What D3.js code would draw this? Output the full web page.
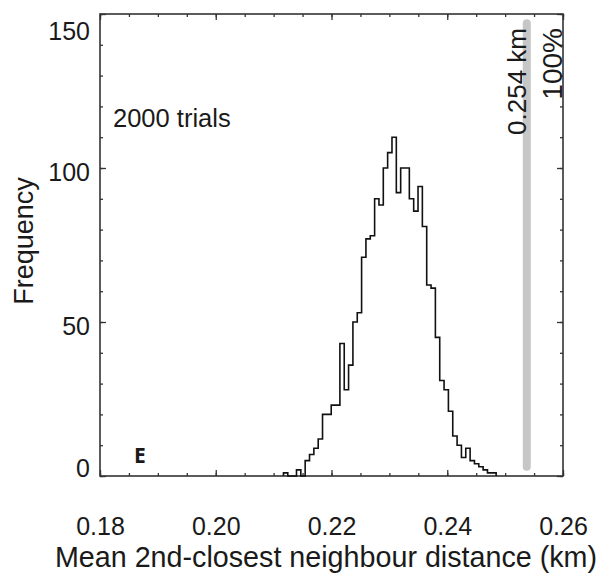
<!DOCTYPE html>
<html>
<head>
<meta charset="utf-8">
<script src="https://cdn.jsdelivr.net/npm/d3@7/dist/d3.min.js"></script>
<style>
  body { margin: 0; background: #fff; }
  text { font-family: "Liberation Sans", Arial, sans-serif; fill: #1a1a1a; }
</style>
</head>
<body>
<div id="chart"></div>
<script>
// Histogram of 2000 randomisation trials (bins of 0.00075 km)
var binStart = 0.2117;
var binWidth = 0.00075;
var counts = [1, 0, 0, 2, 0,
    5, 7, 9, 12, 20, 20, 23, 23,
    43, 28, 36, 50, 53, 71, 77, 78,
    90, 88, 100, 105, 110, 92, 100, 100,
    90, 86, 94, 81, 62, 61, 45, 31,
    28, 21, 13, 10, 6, 9, 5, 4,
    3, 2, 1, 1];

var xTicks = [0.18, 0.20, 0.22, 0.24, 0.26];
var yTicks = [0, 50, 100, 150];
var observed = 0.254;
var observedLabel = "0.254 km";
var percentLabel = "100%";
var trialsLabel = "2000 trials";
var panelLabel = "E";
var xTitle = "Mean 2nd-closest neighbour distance (km)";
var yTitle = "Frequency";

var svgWidth = 601, svgHeight = 574;
var margin = { top: 14, right: 38, bottom: 98, left: 100 };
var width = svgWidth - margin.left - margin.right;
var height = svgHeight - margin.top - margin.bottom;

var svg = d3.select("#chart")
    .append("svg")
    .attr("width", svgWidth)
    .attr("height", svgHeight);
var g = svg.append("g")
    .attr("transform", "translate(" + margin.left + "," + margin.top + ")");

var xScale = d3.scaleLinear().domain([0.18, 0.26]).range([0, width]);
var yScale = d3.scaleLinear().domain([0, 150]).range([height, 0]);

// minor ticks on all four sides
var axes = [
    { gen: d3.axisBottom, t: "translate(0," + height + ")", s: xScale, minor: xScale.ticks(16) },
    { gen: d3.axisTop, t: null, s: xScale, minor: xScale.ticks(16) },
    { gen: d3.axisLeft, t: null, s: yScale, minor: yScale.ticks(15) },
    { gen: d3.axisRight, t: "translate(" + width + ",0)", s: yScale, minor: yScale.ticks(15) }
];
axes.forEach(function(a) {
    var ax = g.append("g").attr("class", "minor");
    if (a.t) ax.attr("transform", a.t);
    ax.call(a.gen(a.s).tickValues(a.minor).tickSize(-3).tickFormat(""));
});

// major ticks
g.append("g").attr("transform", "translate(0," + height + ")")
    .call(d3.axisBottom(xScale).tickValues(xTicks).tickSize(-6).tickPadding(41).tickFormat(d3.format(".2f")))
    .attr("class", "xmajor");
g.append("g").call(d3.axisTop(xScale).tickValues(xTicks).tickSize(-6).tickFormat(""));
var yAxisGroup = g.append("g")
    .call(d3.axisLeft(yScale).tickValues(yTicks).tickSize(-6).tickPadding(10))
    .attr("class", "ymajor");
g.append("g").attr("transform", "translate(" + width + ",0)")
    .call(d3.axisRight(yScale).tickValues(yTicks).tickSize(-6).tickFormat(""));

g.selectAll(".domain").remove();
g.selectAll(".tick line").attr("stroke", "#333").attr("stroke-width", 1.3);
g.selectAll(".xmajor text, .ymajor text")
    .style("font-size", "25px")
    .style("font-family", "'Liberation Sans', Arial, sans-serif")
    .attr("fill", "#1a1a1a");

// y labels kept inside the frame height
yAxisGroup.selectAll(".tick text").each(function(d) {
    var yc = Math.max(17, Math.min(height - 8, yScale(d) + 4));
    d3.select(this).attr("y", yc - yScale(d)).attr("dy", "0.35em");
});

// frame
g.append("rect")
    .attr("width", width).attr("height", height)
    .attr("fill", "none").attr("stroke", "#333").attr("stroke-width", 1.6);

// observed value marker
g.append("line")
    .attr("x1", xScale(observed) - 1.5).attr("x2", xScale(observed) - 1.5)
    .attr("y1", yScale(3)).attr("y2", yScale(147))
    .attr("stroke", "#c6c6c6").attr("stroke-width", 8).attr("stroke-linecap", "round");

// histogram outline
var pts = [[binStart, 0]];
counts.forEach(function(c, i) { pts.push([binStart + i * binWidth, c]); });
pts.push([binStart + counts.length * binWidth, 0]);
var line = d3.line()
    .x(function(d) { return xScale(d[0]); })
    .y(function(d) { return yScale(d[1]); })
    .curve(d3.curveStepAfter);
g.append("path").datum(pts)
    .attr("d", line)
    .attr("fill", "none").attr("stroke", "#111").attr("stroke-width", 1.6);

// texts
g.append("text")
    .attr("transform", "translate(" + (xScale(observed) - 2) + ",14) rotate(-90)")
    .attr("text-anchor", "end").style("font-size", "26px")
    .text(observedLabel);
g.append("text")
    .attr("transform", "translate(" + (width - 1) + ",14) rotate(-90)")
    .attr("text-anchor", "end").style("font-size", "28px")
    .text(percentLabel);
g.append("text")
    .attr("x", 13).attr("y", 113)
    .style("font-size", "25.5px")
    .text(trialsLabel);
g.append("text")
    .attr("x", 34).attr("y", height - 13)
    .style("font-family", "'Open Sans', sans-serif").style("font-weight", "bold").style("font-size", "21px")
    .text(panelLabel);

svg.append("text")
    .attr("x", 326).attr("y", 567)
    .attr("text-anchor", "middle").style("font-size", "28.7px")
    .text(xTitle);
svg.append("text")
    .attr("transform", "translate(33," + 241 + ") rotate(-90)")
    .attr("text-anchor", "middle").style("font-size", "27px")
    .text(yTitle);
</script>
</body>
</html>
